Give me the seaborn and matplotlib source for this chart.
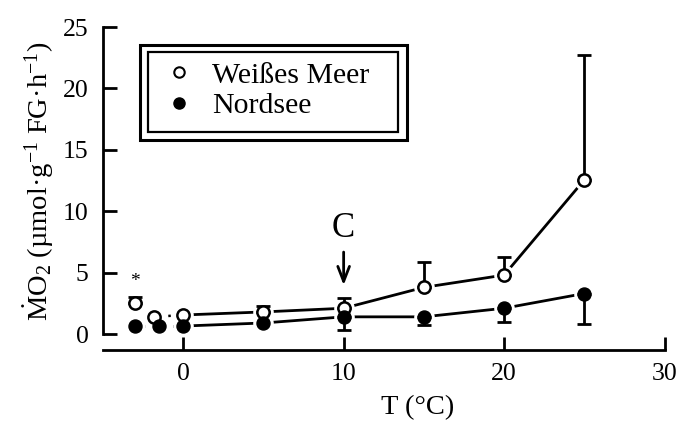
import matplotlib
matplotlib.use("Agg")
import matplotlib.pyplot as plt
import seaborn as sns
import pandas as pd
from matplotlib.lines import Line2D
from matplotlib.patches import Rectangle

# ---------------- data ----------------
temp_wm = [-3, -1.8, 0, 5, 10, 15, 20, 25]
mo2_wm = [2.5, 1.4, 1.55, 1.8, 2.1, 3.8, 4.8, 12.55]
err_wm = [0.5, 0.0, 0.0, 0.5, 0.85, 2.05, 1.5, 10.2]

temp_ns = [-3, -1.5, 0, 5, 10, 15, 20, 25]
mo2_ns = [0.65, 0.65, 0.65, 0.9, 1.4, 1.4, 2.1, 3.3]
err_ns = [0.0, 0.0, 0.0, 0.0, 1.05, 0.7, 1.1, 2.5]

series_labels = ["Weißes Meer", "Nordsee"]
x_ticks = [0, 10, 20, 30]
y_ticks = [0, 5, 10, 15, 20, 25]

# ---------------- style ----------------
sns.set_theme(style="ticks")
plt.rcParams["font.family"] = ["Liberation Serif", "DejaVu Serif"]
plt.rcParams["mathtext.fontset"] = "custom"
plt.rcParams["mathtext.rm"] = "Liberation Serif"
plt.rcParams["mathtext.it"] = "Liberation Serif:italic"
plt.rcParams["mathtext.bf"] = "Liberation Serif:bold"
plt.rcParams["text.color"] = "black"
plt.rcParams["axes.labelcolor"] = "black"
plt.rcParams["xtick.color"] = "black"
plt.rcParams["ytick.color"] = "black"

W, H = 678, 422
fig = plt.figure(figsize=(W / 100, H / 100), dpi=100)
fig.patch.set_facecolor("white")
ax = fig.add_axes([103 / W, 1 - 350 / H, (664.5 - 103) / W, (350 - 27) / H])
ax.set_facecolor("white")

df_wm = pd.DataFrame({"T": temp_wm, "MO2": mo2_wm, "err": err_wm})
df_ns = pd.DataFrame({"T": temp_ns, "MO2": mo2_ns, "err": err_ns})

lw = 2.0
for df in (df_wm, df_ns):
    # dotted part (below 0 °C) and solid part (from 0 °C)
    sns.lineplot(data=df[df["T"] <= 0], x="T", y="MO2", ax=ax, color="black",
                 lw=1.8, linestyle=(0, (1, 2.0)), sort=False, zorder=1)
    sns.lineplot(data=df[df["T"] >= 0], x="T", y="MO2", ax=ax, color="black",
                 lw=lw, sort=False, zorder=1)
    # white halo to make the gaps between lines and markers
    sns.scatterplot(data=df, x="T", y="MO2", ax=ax, color="white", s=220,
                    linewidth=0, zorder=2)

# error bars (one-sided)
e = df_wm[df_wm["err"] > 0]
ax.errorbar(e["T"], e["MO2"], yerr=[[0] * len(e), e["err"]], fmt="none",
            ecolor="black", elinewidth=lw, capsize=5, capthick=lw, zorder=3)
e = df_ns[df_ns["err"] > 0]
ax.errorbar(e["T"], e["MO2"], yerr=[e["err"], [0] * len(e)], fmt="none",
            ecolor="black", elinewidth=lw, capsize=5, capthick=lw, zorder=3)

sns.scatterplot(data=df_wm, x="T", y="MO2", ax=ax, color="white",
                edgecolor="black", linewidth=1.8, s=78, zorder=4)
sns.scatterplot(data=df_ns, x="T", y="MO2", ax=ax, color="black",
                edgecolor="black", linewidth=1.0, s=88, zorder=5)

# annotations
ax.text(-3, 4.3, "*", ha="center", va="center", fontsize=14, color="black")
ax.text(10, 8.6, "C", ha="center", va="center", fontsize=25, color="black")
ax.annotate("", xy=(10, 3.75), xytext=(10, 6.9),
            arrowprops=dict(arrowstyle="->,head_length=0.9,head_width=0.35",
                            lw=2.0, color="black"))

# axes
ax.set_xlim(-5, 30)
ax.set_ylim(-1.3, 25)
ax.set_xticks(x_ticks)
ax.set_yticks(y_ticks)
ax.set_xticklabels([str(t) for t in x_ticks])
ax.set_yticklabels([str(t) for t in y_ticks])
for s in ("top", "right"):
    ax.spines[s].set_visible(False)
ax.spines["left"].set_bounds(0, 25)
for s in ("left", "bottom"):
    ax.spines[s].set_linewidth(2.0)
    ax.spines[s].set_color("black")
ax.tick_params(axis="y", direction="in", length=10, width=2.0, pad=10.5,
               labelsize=18.5, colors="black")
ax.tick_params(axis="x", direction="in", length=9.5, width=2.0, pad=9.5,
               labelsize=18.5, colors="black")

ax.set_xlabel("T (°C)", fontsize=20.5, va="center", color="black")
ax.xaxis.set_label_coords((418 - 103) / 561.5, (350 - 408) / 323)
ax.set_ylabel(r"$\dot{\mathrm{M}}\mathrm{O}_2$ (µmol·g$^{-1}$ FG·h$^{-1}$)",
              fontsize=20.5, va="center", color="black")
ax.yaxis.set_label_coords((39 - 103) / 561.5, (350 - 181) / 323)

# legend with double frame
handles = [
    Line2D([], [], marker="o", ls="none", mfc="white", mec="black", mew=1.5, ms=7.5),
    Line2D([], [], marker="o", ls="none", mfc="black", mec="black", ms=8),
]
leg = ax.legend(handles, series_labels, loc="upper left",
                bbox_to_anchor=(168 / W, 1 - 62 / H), bbox_transform=fig.transFigure,
                frameon=False, fontsize=21.5, handlelength=0.75, handletextpad=0.72,
                labelspacing=0.12, borderpad=0, borderaxespad=0)
for t in leg.get_texts():
    t.set_color("black")
fig.add_artist(Rectangle((148 / W, 1 - 132 / H), (398 - 148) / W, (132 - 52) / H,
                         transform=fig.transFigure, fill=False, lw=1.6,
                         edgecolor="black"))
fig.add_artist(Rectangle((140 / W, 1 - 140 / H), (407 - 140) / W, (140 - 45) / H,
                         transform=fig.transFigure, fill=False, lw=2.2,
                         edgecolor="black"))

fig.savefig("out.png", dpi=100, facecolor="white")
